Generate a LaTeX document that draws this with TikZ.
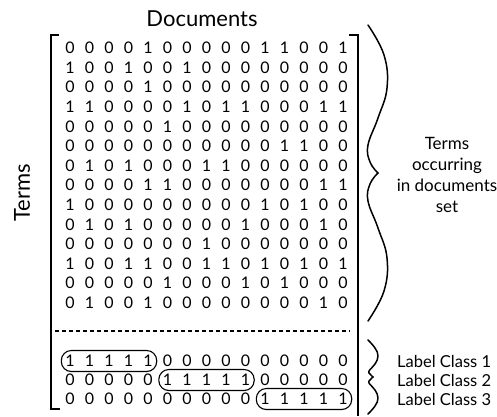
\documentclass[tikz,border=0pt]{standalone}
\usepackage{fontspec}
\setmainfont{Lato}
\usetikzlibrary{fit}
\begin{document}
\begin{tikzpicture}[x=1pt,y=-1pt,
  dig/.style={font=\fontsize{16}{16}\selectfont, inner sep=0pt, minimum size=11pt},
  titletext/.style={font=\fontsize{22}{22}\selectfont, inner sep=0pt},
  sidetext/.style={font=\fontsize{17}{21}\selectfont, align=center, inner sep=0pt},
  classtext/.style={font=\fontsize{16.5}{16.5}\selectfont, inner sep=0pt, anchor=west},
  oval/.style={draw, line width=1.1pt, rounded corners=10pt, inner xsep=3pt, inner ysep=0pt, minimum height=21pt},
  bracketline/.style={line width=1.8pt},
  braceline/.style={line width=1.5pt, line cap=round, line join=round}]
\useasboundingbox (0,0) rectangle (497,416);

% term-document matrix
\foreach \rowvals [count=\r] in {
 {0,0,0,0,1,0,0,0,0,0,1,1,0,0,1},
 {1,0,0,1,0,0,1,0,0,0,0,0,0,0,0},
 {0,0,0,0,1,0,0,0,0,0,0,0,0,0,0},
 {1,1,0,0,0,0,1,0,1,1,0,0,0,1,1},
 {0,0,0,0,0,1,0,0,0,0,0,0,0,0,0},
 {0,0,0,0,0,0,0,0,0,0,0,1,1,0,0},
 {0,1,0,1,0,0,0,1,1,0,0,0,0,0,0},
 {0,0,0,0,1,1,0,0,0,0,0,0,0,1,1},
 {1,0,0,0,0,0,0,0,0,0,1,0,1,0,0},
 {0,1,0,1,0,0,0,0,0,1,0,0,0,1,0},
 {0,0,0,0,0,0,0,1,0,0,0,0,0,0,0},
 {1,0,0,1,1,0,0,1,1,0,1,0,1,0,1},
 {0,0,0,0,0,1,0,0,0,1,0,1,0,0,0},
 {0,1,0,0,1,0,0,0,0,0,0,0,0,1,0}}{
  \foreach \v [count=\c] in \rowvals {
    \node[dig] (m-\r-\c) at ({70+19.5*(\c-1)},{48+19.6*(\r-1)}) {\v};
  }
}

% label rows
\foreach \rowvals/\yy [count=\r] in {
 {1,1,1,1,1,0,0,0,0,0,0,0,0,0,0}/361,
 {0,0,0,0,0,1,1,1,1,1,0,0,0,0,0}/380,
 {0,0,0,0,0,0,0,0,0,0,1,1,1,1,1}/399}{
  \foreach \v [count=\c] in \rowvals {
    \node[dig] (l-\r-\c) at ({70+19.5*(\c-1)},\yy) {\v};
  }
}

\node[oval, fit=(l-1-1)(l-1-5)] (o1) {};
\node[oval, fit=(l-2-6)(l-2-10)] (o2) {};
\node[oval, fit=(l-3-11)(l-3-15)] (o3) {};

% separator
\coordinate (dl) at (55,331);
\coordinate (dr) at (350,331);
\draw[line width=1.3pt, dash pattern=on 4pt off 3pt] (dl) -- (dr);

% brackets
\draw[bracketline] (59,35) -- (51,35) -- (51,409) -- (60,409);
\draw[bracketline] (349,35) -- (358,35) -- (358,416);

% titles
\node[titletext] (docs) at (202,19) {Documents};
\node[titletext, rotate=90] (terms) at (22,193) {Terms};

% big brace
\draw[braceline] plot[smooth, tension=0.7] coordinates {(368,25) (384,55) (387,88) (378,118) (368,145) (370,162) (378,173)};
\draw[braceline] plot[smooth, tension=0.7] coordinates {(378,173) (370,184) (368,201) (378,228) (387,258) (384,291) (368,321)};
\node[sidetext] (tset) at (447,175) {Terms\\occurring\\in documents\\set};

% small brace
\draw[braceline] plot[smooth, tension=0.7] coordinates {(368,340) (375,348) (378,356) (375,364) (369,371) (370,374) (373,377)};
\draw[braceline] plot[smooth, tension=0.7] coordinates {(373,377) (370,380) (369,383) (375,390) (378,398) (375,406) (368,414)};

\node[classtext] (c1) at (397,361) {Label Class 1};
\node[classtext] (c2) at (397,380) {Label Class 2};
\node[classtext] (c3) at (397,399) {Label Class 3};
\end{tikzpicture}
\end{document}
